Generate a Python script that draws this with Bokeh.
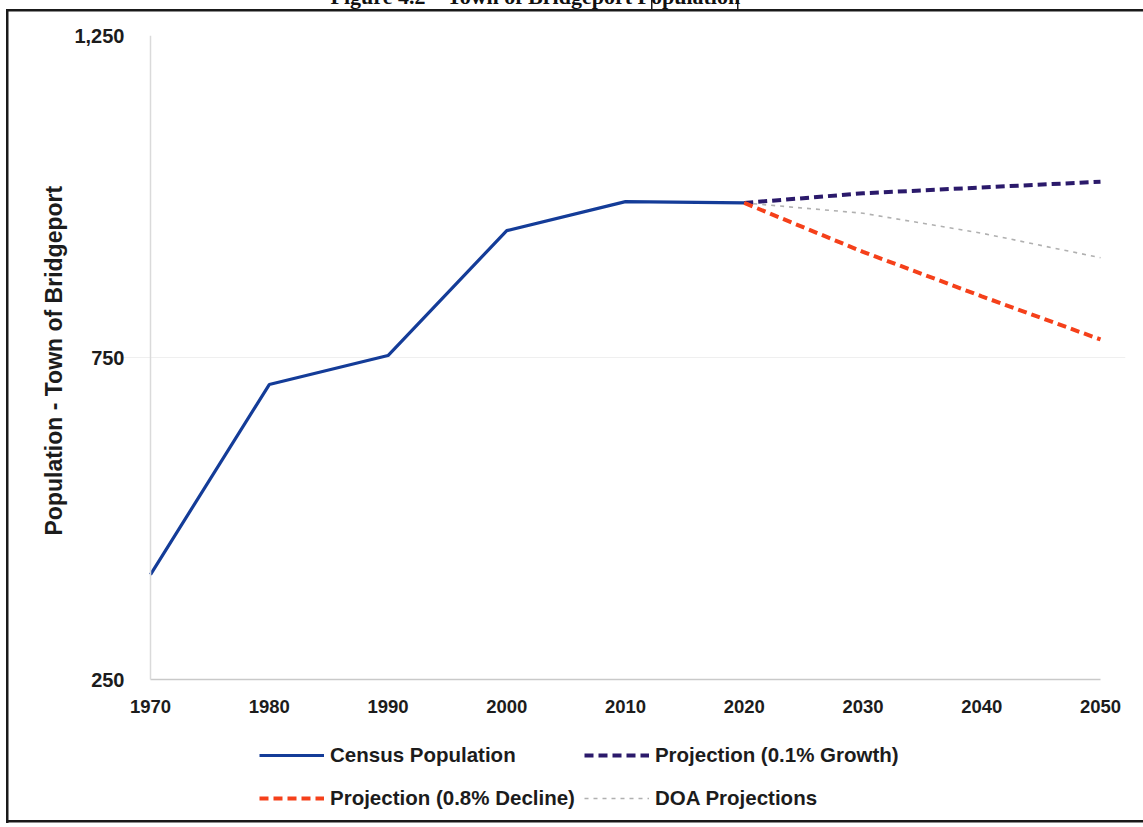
from bokeh.plotting import figure
from bokeh.models import (Legend, LegendItem, FixedTicker, Range1d,
                          NumeralTickFormatter, Title, LinearAxis)
from bokeh.embed import file_html
from bokeh.resources import INLINE

# Census counts and projections, Town of Bridgeport
census_years = [1970, 1980, 1990, 2000, 2010, 2020]
census_pop = [413, 708, 753, 947, 992, 990]

proj_years = [2020, 2030, 2040, 2050]
growth_pop = [990, 1005, 1014, 1023]
decline_pop = [990, 914, 845, 778]
doa_pop = [990, 974, 943, 905]

x_ticks = [1970, 1980, 1990, 2000, 2010, 2020, 2030, 2040, 2050]
y_ticks = [250, 750, 1250]

title_text = "Figure 4.2 \u2013 Town of Bridgeport Population"
y_label = "Population - Town of Bridgeport"

TICK_FONT = "Liberation Sans"
TEXT_COLOR = "#1c1c1c"
INK = "#1a1a1a"

# page geometry (px). The plotted band spans x 1970..2050 between PLOT_LEFT and
# PLOT_RIGHT and y 250..1250 between AXIS_PX and TOP_PX; the frame is a bit
# larger so the year labels and the legend sit inside it.
SHIFT = 50            # canvas rows hidden above the page top (caption runs off it)
TOP_PX, AXIS_PX, FRAME_BOTTOM_PX = 35, 679, 815
PLOT_LEFT, PLOT_RIGHT = 150, 1100
FRAME_LEFT, FRAME_RIGHT = 120, 1125
EXTRA_BOTTOM = 40
CANVAS_H = FRAME_BOTTOM_PX + SHIFT + EXTRA_BOTTOM
OVERHANG = CANVAS_H - SHIFT - 827

x_lo, x_hi = x_ticks[0], x_ticks[-1]
y_lo, y_hi = y_ticks[0], y_ticks[-1]
px_per_year = (PLOT_RIGHT - PLOT_LEFT) / (x_hi - x_lo)
px_per_unit = (AXIS_PX - TOP_PX) / (y_hi - y_lo)
x_start = x_lo - (PLOT_LEFT - FRAME_LEFT) / px_per_year
x_end = x_hi + (FRAME_RIGHT - PLOT_RIGHT) / px_per_year
y_start = y_lo - (FRAME_BOTTOM_PX - AXIS_PX) / px_per_unit


def bar(x, y, w, h):
    return f"linear-gradient({INK},{INK}) {x}px {y + SHIFT}px / {w}px {h}px no-repeat"


# page frame (left, top and bottom rules) drawn behind a transparent canvas
page_background = ", ".join([
    bar(6, 9, 2.5, 814),
    bar(6, 9, 1137, 2.5),
    bar(6, 820, 1137, 2.5),
    bar(651, 0, 1.5, 9),
    bar(737, 0, 1.5, 9),
    "#ffffff",
])

p = figure(width=1143, height=CANVAS_H, output_backend="svg",
           toolbar_location=None,
           x_range=Range1d(x_start, x_end), y_range=Range1d(y_start, y_hi),
           min_border_left=FRAME_LEFT, min_border_right=1143 - FRAME_RIGHT,
           min_border_top=TOP_PX + SHIFT, min_border_bottom=EXTRA_BOTTOM)
p.background_fill_color = None
p.border_fill_color = None
p.outline_line_color = None
p.styles = {"background": page_background, "margin-top": f"-{SHIFT}px",
            "margin-bottom": f"-{OVERHANG}px"}

# x axis pinned to y=250, limited to the plotted years
p.xaxis.ticker = FixedTicker(ticks=x_ticks)
p.xaxis.fixed_location = y_lo
p.xaxis.bounds = (x_lo, x_hi)
p.xaxis.axis_line_color = "#c9c9c9"
p.xaxis.axis_line_width = 1.5
p.xaxis.major_label_text_font_size = "18.5px"
p.xaxis.major_label_standoff = 14

# y axis labels sit just left of the 1970 line
p.yaxis.ticker = FixedTicker(ticks=y_ticks)
p.yaxis.formatter = NumeralTickFormatter(format="0,0")
p.yaxis.axis_line_color = None
p.yaxis.major_label_text_font_size = "20px"
p.yaxis.major_label_standoff = FRAME_LEFT - (PLOT_LEFT - 20)

for ax in (p.xaxis[0], p.yaxis[0]):
    ax.major_tick_line_color = None
    ax.minor_tick_line_color = None
    ax.major_label_text_font = TICK_FONT
    ax.major_label_text_font_style = "bold"
    ax.major_label_text_color = TEXT_COLOR

# value axis rule at 1970, spanning 250..1250 only
rule = LinearAxis(fixed_location=x_lo, bounds=(y_lo, y_hi),
                  ticker=FixedTicker(ticks=[]),
                  axis_line_color="#dadada", axis_line_width=1.5,
                  major_tick_line_color=None, minor_tick_line_color=None,
                  major_label_text_font_size="0px", major_label_standoff=0)
p.add_layout(rule, "right")

# faint horizontal guides
p.xgrid.grid_line_color = None
p.ygrid.ticker = FixedTicker(ticks=y_ticks[1:])
p.ygrid.grid_line_color = "#efefef"
p.ygrid.grid_line_width = 1

# y-axis caption, centred on the plotted band
p.add_layout(Title(text=y_label, align="left",
                   offset=FRAME_BOTTOM_PX - 535, standoff=10,
                   vertical_align="bottom", text_font=TICK_FONT,
                   text_font_style="bold", text_font_size="23px",
                   text_color=TEXT_COLOR), "left")

# series
r_census = p.line(census_years, census_pop, line_color="#143c98", line_width=3.2)
r_growth = p.line(proj_years, growth_pop, line_color="#2b1a6b", line_width=4,
                  line_dash="9 5")
r_doa = p.line(proj_years, doa_pop, line_color="#b0b0b0", line_width=1.6,
               line_dash="4 5")
r_decline = p.line(proj_years, decline_pop, line_color="#f5401a", line_width=4,
                   line_dash="9 5")

legend = Legend(items=[
    LegendItem(label="Census Population", renderers=[r_census]),
    LegendItem(label="Projection (0.8% Decline)", renderers=[r_decline]),
    LegendItem(label="Projection (0.1% Growth)", renderers=[r_growth]),
    LegendItem(label="DOA Projections", renderers=[r_doa]),
], location=(259 - FRAME_LEFT, 0), orientation="vertical", ncols=2)
legend.label_text_font = TICK_FONT
legend.label_text_font_style = "bold"
legend.label_text_font_size = "20.5px"
legend.label_text_color = TEXT_COLOR
legend.glyph_width = 65
legend.glyph_height = 34
legend.label_height = 34
legend.label_standoff = 6
legend.spacing = 9
legend.padding = 0
legend.margin = 0
legend.border_line_color = None
legend.background_fill_alpha = 0
p.add_layout(legend)

# figure caption along the top edge, running off the page
caption = Title(text=title_text, align="left", offset=180 - (FRAME_LEFT - PLOT_LEFT),
                standoff=54, vertical_align="bottom", text_font="Liberation Serif",
                text_font_style="bold", text_font_size="22px",
                text_color="#111111")
p.add_layout(caption, "above")

open("out.html", "w").write(file_html(p, INLINE))
